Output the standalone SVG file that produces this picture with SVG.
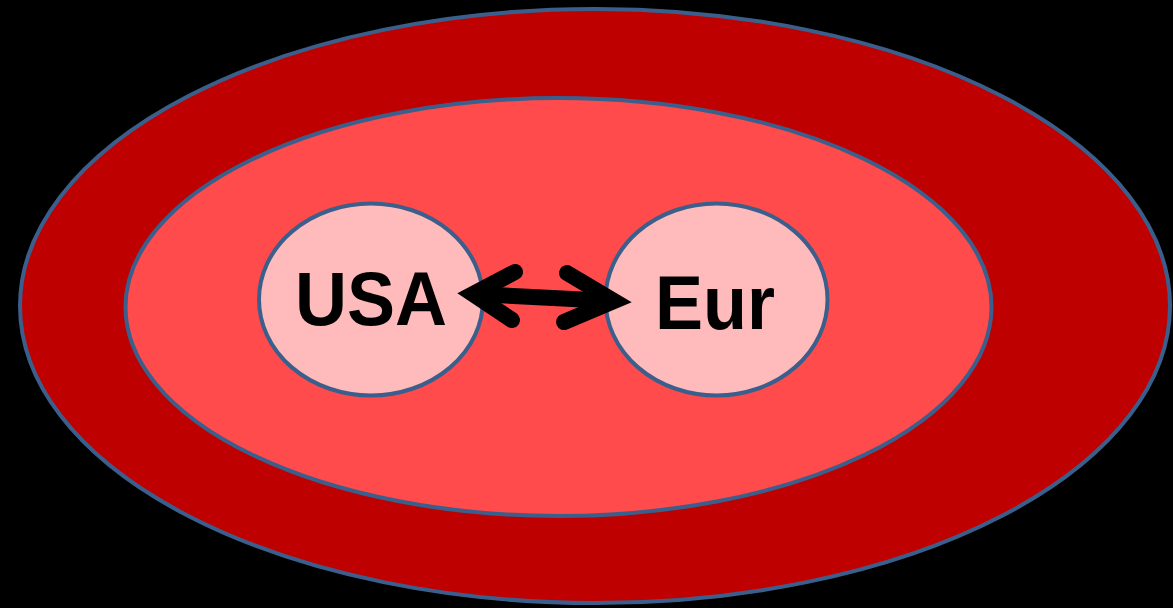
<svg xmlns="http://www.w3.org/2000/svg" width="1173" height="608" viewBox="0 0 1173 608">
<style>
.shape{stroke:#3B5F8C;stroke-width:4}
.lbl{font-family:"Liberation Sans",Arial,sans-serif;font-weight:bold;font-size:76px;fill:#000}
.arr{fill:none;stroke:#000;stroke-width:16;stroke-linecap:round;stroke-linejoin:miter;stroke-miterlimit:10}
</style>
<rect width="1173" height="608" fill="#000"/>
<g id="outer"><ellipse class="shape" cx="595" cy="306" rx="575" ry="297" fill="#BE0000"/></g>
<g id="inner"><ellipse class="shape" cx="558.5" cy="307" rx="433" ry="209" fill="#FF4B4B"/></g>
<g id="usa"><ellipse class="shape" cx="371" cy="299.5" rx="112" ry="96" fill="#FFBBBB"/><text class="lbl" x="295" y="325" textLength="152" lengthAdjust="spacingAndGlyphs">USA</text></g>
<g id="eur"><ellipse class="shape" cx="716.5" cy="299.5" rx="111" ry="96" fill="#FFBBBB"/><text class="lbl" x="655" y="329" textLength="120" lengthAdjust="spacingAndGlyphs">Eur</text></g>
<g id="connectors">
<line class="arr" x1="476" y1="294" x2="612" y2="301"/>
<polyline class="arr" points="515,272 473,294 512,320"/>
<polyline class="arr" points="567,273 614,301 564,322"/>
</g>
</svg>
